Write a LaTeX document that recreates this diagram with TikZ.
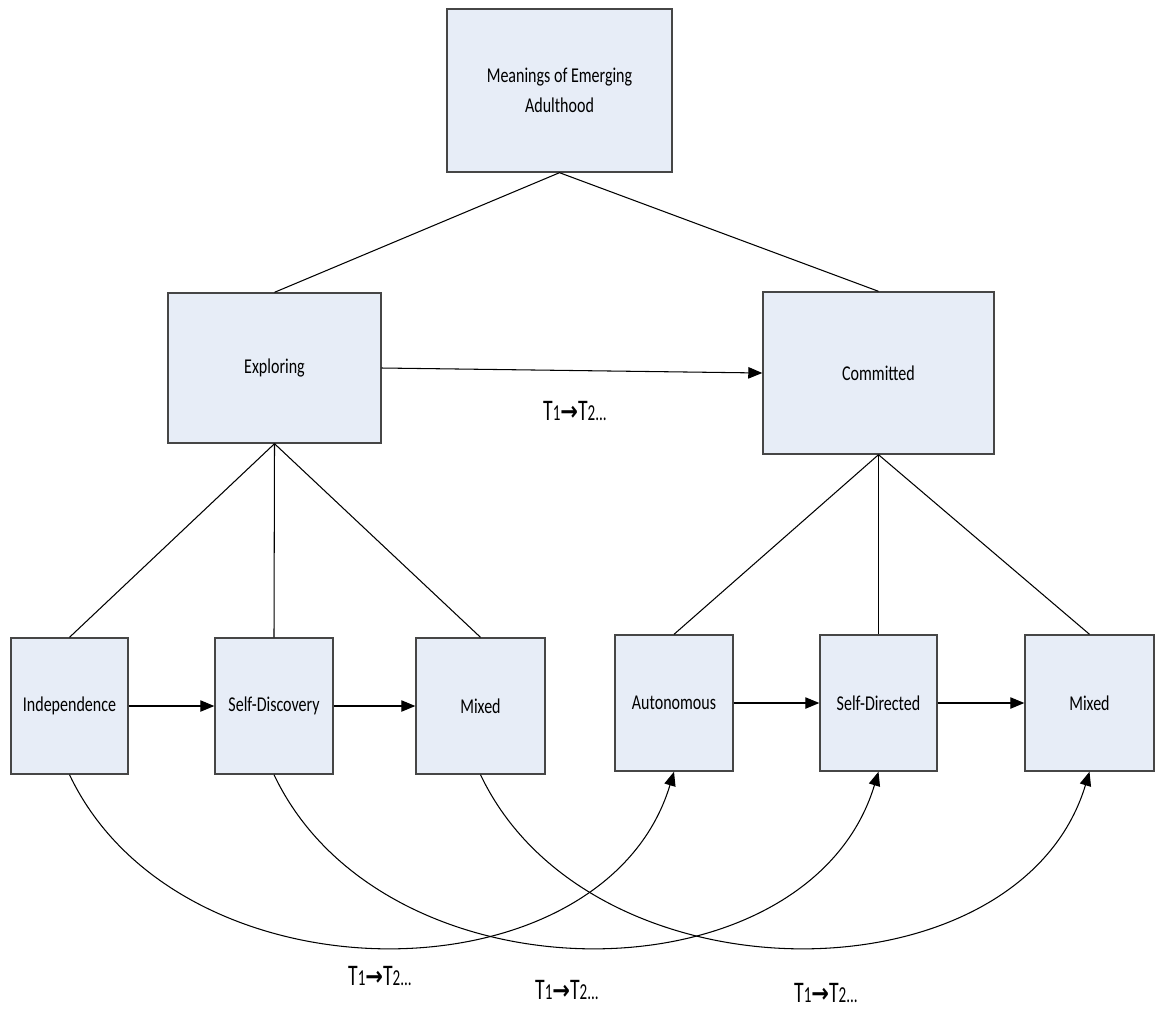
\documentclass[tikz,border=0pt]{standalone}
\usepackage{fontspec}
\setmainfont{Carlito}[FakeStretch=0.76]
\newfontfamily\labfont{Carlito}[FakeStretch=0.66]
\newfontfamily\arrfont{DejaVu Sans}[FakeStretch=0.8]
\usepackage{tikz}
\usetikzlibrary{arrows.meta}
\usetikzlibrary{positioning}
\definecolor{boxfill}{RGB}{231,237,247}
\definecolor{boxline}{RGB}{70,70,70}
\newcommand{\ttrans}{T{\fontsize{13}{13}\selectfont 1}{\arrfont\bfseries\fontsize{15}{15}\selectfont →}T{\fontsize{13}{13}\selectfont 2...}}

\begin{document}
\begin{tikzpicture}[x=0.02cm,y=-0.02cm,
  box/.style={draw=boxline,line width=0.8pt,fill=boxfill,inner sep=0pt,align=center,
    font=\fontsize{12}{17}\selectfont},
  link/.style={line width=0.6pt},
  flow/.style={line width=0.6pt,-{Triangle[length=8pt,width=6.5pt]}},
  tlab/.style={inner sep=0pt,font=\labfont\fontsize{17}{17}\selectfont}]
\useasboundingbox (0,0) rectangle (1155,1015);
  \node[box,minimum width=4.5cm,minimum height=3.26cm] (top) at (559.5,90.5) {Meanings of Emerging\\Adulthood};
  \node[box,minimum width=4.26cm,minimum height=3cm] (expl) at (274.5,368) {Exploring};
  \node[box,minimum width=4.62cm,minimum height=3.24cm] (comm) at (878.5,373) {Committed};
  \node[box,minimum width=2.34cm,minimum height=2.72cm] (ind) at (69.5,706) {Independence};
  \node[box,minimum width=2.36cm,minimum height=2.72cm] (disc) at (274,706) {Self-Discovery};
  \node[box,minimum width=2.58cm,minimum height=2.72cm] (mixa) at (480.5,706) {Mixed};
  \node[box,minimum width=2.36cm,minimum height=2.72cm] (aut) at (674,703) {Autonomous};
  \node[box,minimum width=2.34cm,minimum height=2.72cm] (dir) at (878.5,703) {Self-Directed};
  \node[box,minimum width=2.58cm,minimum height=2.72cm] (mixb) at (1089.5,703) {Mixed};
  \node[tlab] (t0) at (575,411) {\ttrans};
  \node[tlab] (t1) at (380,976) {\ttrans};
  \node[tlab] (t2) at (567,990) {\ttrans};
  \node[tlab] (t3) at (826,993) {\ttrans};
  \draw[link](expl.north)--(top.south)--(comm.north);
  \draw[link](expl.south)--(ind.north);
  \draw[link](expl.south)--(disc.north);
  \draw[link](expl.south)--(mixa.north);
  \draw[link](comm.south)--(aut.north);
  \draw[link](comm.south)--(dir.north);
  \draw[link](comm.south)--(mixb.north);
  \draw[flow](expl.east)--(comm.west);
  \draw[flow](ind)--(disc);
  \draw[flow](disc)--(mixa);
  \draw[flow](aut)--(dir);
  \draw[flow](dir)--(mixb);
  \draw[flow](ind.south) .. controls +(110,232) and +(-70,232) .. (aut.south);
  \draw[flow](disc.south) .. controls +(110,232) and +(-70,232) .. (dir.south);
  \draw[flow](mixa.south) .. controls +(110,232) and +(-70,232) .. (mixb.south);
\end{tikzpicture}
\end{document}
